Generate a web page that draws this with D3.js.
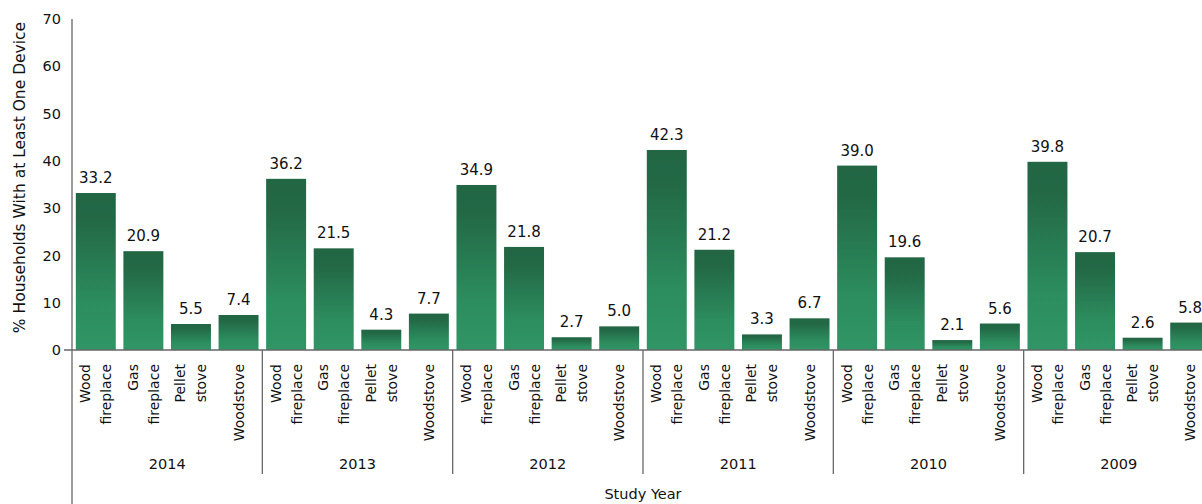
<!DOCTYPE html>
<html><head><meta charset="utf-8">
<script src="https://cdn.jsdelivr.net/npm/d3@7"></script>
<style>body{margin:0;background:#fff;overflow:hidden}svg{display:block;font-family:"DejaVu Sans",sans-serif}</style>
</head><body><svg id="c" width="1202" height="504"></svg>
<script>
const years = ["2014","2013","2012","2011","2010","2009"];
const devices = [["Wood","fireplace"],["Gas","fireplace"],["Pellet","stove"],["Woodstove"]];
const v2014 = [33.2,20.9,5.5,7.4];
const v2013 = [36.2,21.5,4.3,7.7];
const v2012 = [34.9,21.8,2.7,5.0];
const v2011 = [42.3,21.2,3.3,6.7];
const v2010 = [39.0,19.6,2.1,5.6];
const v2009 = [39.8,20.7,2.6,5.8];
const yTicks = [0,10,20,30,40,50,60,70];
const allVals = [v2014,v2013,v2012,v2011,v2010,v2009];

const svg = d3.select("#c");
const L = 72, R = 1214, T = 19, B = 350;
const y = d3.scaleLinear().domain([0,70]).range([B,T]);
const xg = d3.scaleBand().domain(years).range([L,R]);
const xi = d3.scaleBand().domain(d3.range(4)).range([0,xg.bandwidth()]).paddingInner(0.16).paddingOuter(0.08);

const defs = svg.append("defs");
const g = defs.append("linearGradient").attr("id","gr").attr("x1",0).attr("y1",0).attr("x2",0).attr("y2",1);
g.append("stop").attr("offset","0%").attr("stop-color","#226644");
g.append("stop").attr("offset","18%").attr("stop-color","#236946");
g.append("stop").attr("offset","70%").attr("stop-color","#2c8d5e");
g.append("stop").attr("offset","100%").attr("stop-color","#309566");

years.forEach((yr,gi)=>{
  const vals = allVals[gi];
  const grp = svg.append("g").attr("transform",`translate(${xg(yr)},0)`);
  vals.forEach((v,i)=>{
    grp.append("rect").attr("x",xi(i)).attr("y",y(v)).attr("width",xi.bandwidth()).attr("height",B-y(v)).attr("fill","url(#gr)");
    grp.append("text").attr("x",xi(i)+xi.bandwidth()/2).attr("y",y(v)-10).attr("text-anchor","middle")
      .attr("font-size",15).attr("fill","#111").text(v.toFixed(1));
    const lines = devices[i];
    const cx = xi(i)+xi.bandwidth()/2;
    const lh = 21;
    lines.forEach((ln,k)=>{
      const lx = cx + (k-(lines.length-1)/2)*lh + 5;
      grp.append("text").attr("transform",`translate(${lx},${B+14}) rotate(-90)`)
        .attr("text-anchor", "end").attr("font-size",14).attr("fill","#111").text(ln);
    });
  });
  grp.append("text").attr("x",xg.bandwidth()/2).attr("y",469).attr("text-anchor","middle").attr("font-size",14.5).attr("fill","#111").text(yr);
  if(gi>0) svg.append("line").attr("x1",xg(yr)).attr("x2",xg(yr)).attr("y1",B).attr("y2",474).attr("stroke","#666").attr("stroke-width",1.3);
});

svg.append("line").attr("x1",L).attr("x2",L).attr("y1",T).attr("y2",504).attr("stroke","#666").attr("stroke-width",1.3);
svg.append("line").attr("x1",L-8).attr("x2",1202).attr("y1",B).attr("y2",B).attr("stroke","#666").attr("stroke-width",1.3);
const ya = svg.append("g").attr("transform",`translate(${L},0)`).call(d3.axisLeft(y).tickValues(yTicks).tickSize(0).tickPadding(11));
ya.select(".domain").remove();
ya.selectAll("text").attr("font-size",14.5).attr("fill","#111").attr("font-family","DejaVu Sans");

svg.append("text").attr("transform",`translate(25,${(T+B)/2-7}) rotate(-90)`).attr("text-anchor","middle").attr("font-size",15.5).attr("fill","#111").text("% Households With at Least One Device");
svg.append("text").attr("x",(L+R)/2).attr("y",499).attr("text-anchor","middle").attr("font-size",14.5).attr("fill","#111").text("Study Year");
</script></body></html>
